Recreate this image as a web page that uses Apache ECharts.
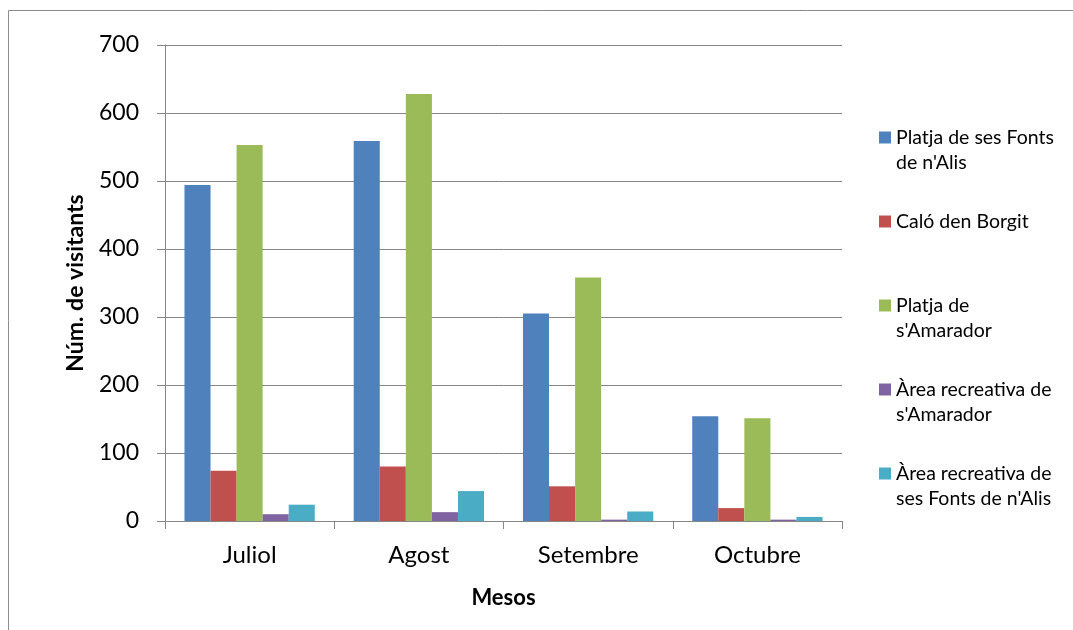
<!DOCTYPE html>
<html>
<head>
<meta charset="utf-8">
<script src="https://cdn.jsdelivr.net/npm/echarts@6/dist/echarts.min.js"></script>
<style>
  html, body { margin: 0; padding: 0; background: #fff; }
  #chart { width: 1073px; height: 630px; }
</style>
</head>
<body>
<div id="chart"></div>
<script>
const categories = ['Juliol', 'Agost', 'Setembre', 'Octubre'];
const seriesNames = [
  'Platja de ses Fonts de n\'Alis',
  'Caló den Borgit',
  'Platja de s\'Amarador',
  'Àrea recreativa de s\'Amarador',
  'Àrea recreativa de ses Fonts de n\'Alis'
];
const legendLabels = [
  'Platja de ses Fonts\nde n\'Alis',
  'Caló den Borgit',
  'Platja de\ns\'Amarador',
  'Àrea recreativa de\ns\'Amarador',
  'Àrea recreativa de\nses Fonts de n\'Alis'
];
const fontsAlis = [494, 559, 305, 154];
const caloBorgit = [74, 80, 51, 19];
const platjaAmarador = [553, 628, 358, 151];
const areaAmarador = [10, 13, 2, 2];
const areaFontsAlis = [24, 44, 14, 6];
const colors = ['#4F81BD', '#C0504D', '#9BBB59', '#8064A2', '#4BACC6'];
const yTicks = { min: 0, max: 700, interval: 100 };

const allValues = [fontsAlis, caloBorgit, platjaAmarador, areaAmarador, areaFontsAlis];
const FONT = 'Lato, "Open Sans", sans-serif';

const chart = echarts.init(document.getElementById('chart'), null, { renderer: 'canvas' });
chart.setOption({
  animation: false,
  backgroundColor: '#ffffff',
  color: colors,
  graphic: [{
    type: 'rect',
    shape: { x: 8.5, y: 10.5, width: 1100, height: 700 },
    style: { fill: 'none', stroke: '#8c8c8c', lineWidth: 1 },
    silent: true
  }],
  grid: { left: 165, right: 1073 - 842, top: 45, bottom: 630 - 521, containLabel: false },
  legend: {
    orient: 'vertical',
    left: 879,
    top: 100,
    padding: 0,
    itemGap: 9,
    itemWidth: 12,
    itemHeight: 12,
    icon: 'rect',
    data: seriesNames,
    formatter: function (name) {
      const i = seriesNames.indexOf(name);
      const lbl = legendLabels[i];
      const n = lbl.split('\n').length;
      return n === 1 ? '\n' + lbl + '\n' : '\n' + lbl;
    },
    textStyle: { fontFamily: FONT, fontSize: 19.5, color: '#000', lineHeight: 25 }
  },
  xAxis: {
    type: 'category',
    data: categories,
    name: 'Mesos',
    nameLocation: 'middle',
    nameGap: 66,
    nameTextStyle: { fontFamily: FONT, fontSize: 22, fontWeight: 'bold', color: '#000', verticalAlign: 'top' },
    axisLine: { lineStyle: { color: '#868686', width: 1 } },
    axisTick: { show: true, length: 8, inside: false, lineStyle: { color: '#868686' } },
    axisLabel: { fontFamily: FONT, fontSize: 24, color: '#000', margin: 22 }
  },
  yAxis: {
    type: 'value',
    min: yTicks.min,
    max: yTicks.max,
    interval: yTicks.interval,
    name: 'Núm. de visitants',
    nameLocation: 'middle',
    nameRotate: 90,
    nameGap: 78,
    nameTextStyle: { fontFamily: FONT, fontSize: 23, fontWeight: 'bold', color: '#000' },
    axisLine: { show: true, lineStyle: { color: '#868686', width: 1 } },
    axisTick: { show: true, length: 8, inside: false, lineStyle: { color: '#868686' } },
    axisLabel: { fontFamily: FONT, fontSize: 23, color: '#000', margin: 26 },
    splitLine: { show: true, lineStyle: { color: '#868686', width: 1 } }
  },
  series: seriesNames.map(function (name, i) {
    return {
      name: name,
      type: 'bar',
      data: allValues[i],
      barGap: '0%',
      barCategoryGap: '23%',
      itemStyle: { color: colors[i] }
    };
  })
});
</script>
</body>
</html>
